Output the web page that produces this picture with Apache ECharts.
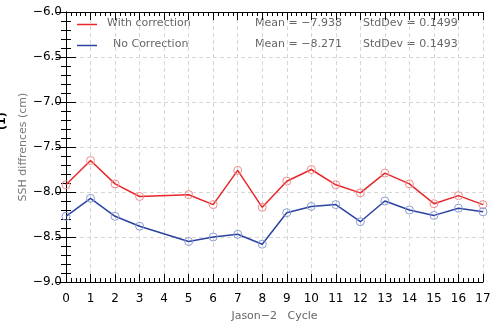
<!DOCTYPE html>
<html><head><meta charset="utf-8">
<script src="https://cdn.jsdelivr.net/npm/echarts@6/dist/echarts.min.js"></script>
<style>html,body{margin:0;padding:0;background:#fff}#c{width:502px;height:327px}</style>
</head><body><div id="c"></div>
<script>
const cycles = [0,1,2,3,5,6,7,8,9,10,11,12,13,14,15,16,17];
const withCorrection = [-7.92,-7.65,-7.91,-8.05,-8.03,-8.14,-7.76,-8.17,-7.88,-7.75,-7.92,-8.01,-7.79,-7.91,-8.13,-8.04,-8.14];
const noCorrection = [-8.27,-8.07,-8.27,-8.38,-8.55,-8.50,-8.47,-8.58,-8.23,-8.16,-8.14,-8.33,-8.10,-8.20,-8.26,-8.18,-8.22];
const legendNames = ['With correction','No Correction'];
const meanLabels = ['Mean = \u22127.938','Mean = \u22128.271'];
const stdLabels = ['StdDev = 0.1499','StdDev = 0.1493'];
const xTitle = 'Jason\u22122   Cycle';
const yTitle = 'SSH diffrences (cm)';

const chart = echarts.init(document.getElementById('c'));
const font = 'DejaVu Sans';
const dashed = {show:true, lineStyle:{color:'#d6d6d6', type:[4,3], width:1}};
const fmtY = v => (v<0?'\u2212':'') + Math.abs(v).toFixed(1);
const pairs = arr => cycles.map((c,i)=>[c,arr[i]]);
const blk = {color:'#000', width:1};
const inTick = len => ({show:true,inside:false,length:-len,lineStyle:blk});
const inMinor = len => ({show:true,splitNumber:5,length:-len,lineStyle:blk});

chart.setOption({
  animation:false,
  grid:{left:66,right:19,top:12,bottom:39},
  xAxis:[
    {type:'value',min:0,max:17,interval:1,position:'bottom',
     axisLine:{show:true,lineStyle:blk},axisTick:inTick(8),minorTick:inMinor(4),
     splitLine:dashed,
     axisLabel:{color:'#000',fontFamily:font,fontSize:12,margin:11},
     name:xTitle,nameLocation:'middle',nameGap:29,nameMoveOverlap:false,
     nameTextStyle:{color:'#666',fontFamily:font,fontSize:11}},
    {type:'value',min:0,max:17,interval:1,position:'top',
     axisLine:{show:true,lineStyle:blk},axisTick:inTick(8),minorTick:inMinor(4),
     splitLine:{show:false},axisLabel:{show:false}}
  ],
  yAxis:[
    {type:'value',min:-9,max:-6,interval:0.5,position:'left',
     axisLine:{show:true,lineStyle:blk},axisTick:inTick(10),minorTick:inMinor(5),
     splitLine:dashed,
     axisLabel:{color:'#000',fontFamily:font,fontSize:12,margin:4,formatter:fmtY},
     name:yTitle,nameLocation:'middle',nameGap:37,nameRotate:90,nameMoveOverlap:false,
     nameTextStyle:{color:'#777',fontFamily:font,fontSize:11}},
    {type:'value',min:-9,max:-6,interval:0.5,position:'right',
     axisLine:{show:true,lineStyle:blk},axisTick:inTick(10),minorTick:inMinor(5),
     splitLine:{show:false},axisLabel:{show:false}}
  ],
  series:[
    {name:legendNames[0],type:'line',data:pairs(withCorrection),
     symbol:'circle',symbolSize:8,
     lineStyle:{color:'#e8272c',width:1.5},
     itemStyle:{color:'rgba(0,0,0,0)',borderColor:'#f08a8a',borderWidth:1}},
    {name:legendNames[1],type:'line',data:pairs(noCorrection),
     symbol:'circle',symbolSize:8,
     lineStyle:{color:'#2b43a0',width:1.5},
     itemStyle:{color:'rgba(0,0,0,0)',borderColor:'#8a9cd4',borderWidth:1}}
  ],
  graphic:[
    {type:'line',shape:{x1:77,y1:24.5,x2:97,y2:24.5},style:{stroke:'#e8272c',lineWidth:1.5}},
    {type:'line',shape:{x1:77,y1:45.5,x2:97,y2:45.5},style:{stroke:'#2b43a0',lineWidth:1.5}},
    {type:'text',left:107,top:18,style:{text:legendNames[0],fill:'#666',font:'11px DejaVu Sans'}},
    {type:'text',left:113,top:39,style:{text:legendNames[1],fill:'#666',font:'11px DejaVu Sans'}},
    {type:'text',left:255,top:18,style:{text:meanLabels[0],fill:'#666',font:'11px DejaVu Sans'}},
    {type:'text',left:255,top:39,style:{text:meanLabels[1],fill:'#666',font:'11px DejaVu Sans'}},
    {type:'text',left:363,top:18,style:{text:stdLabels[0],fill:'#666',font:'11px DejaVu Sans'}},
    {type:'text',left:363,top:39,style:{text:stdLabels[1],fill:'#666',font:'11px DejaVu Sans'}},
    {type:'text',x:-3,y:130,rotation:Math.PI/2,style:{text:'(1)',fill:'#000',font:'bold 11px DejaVu Sans'}}
  ]
});
</script></body></html>
